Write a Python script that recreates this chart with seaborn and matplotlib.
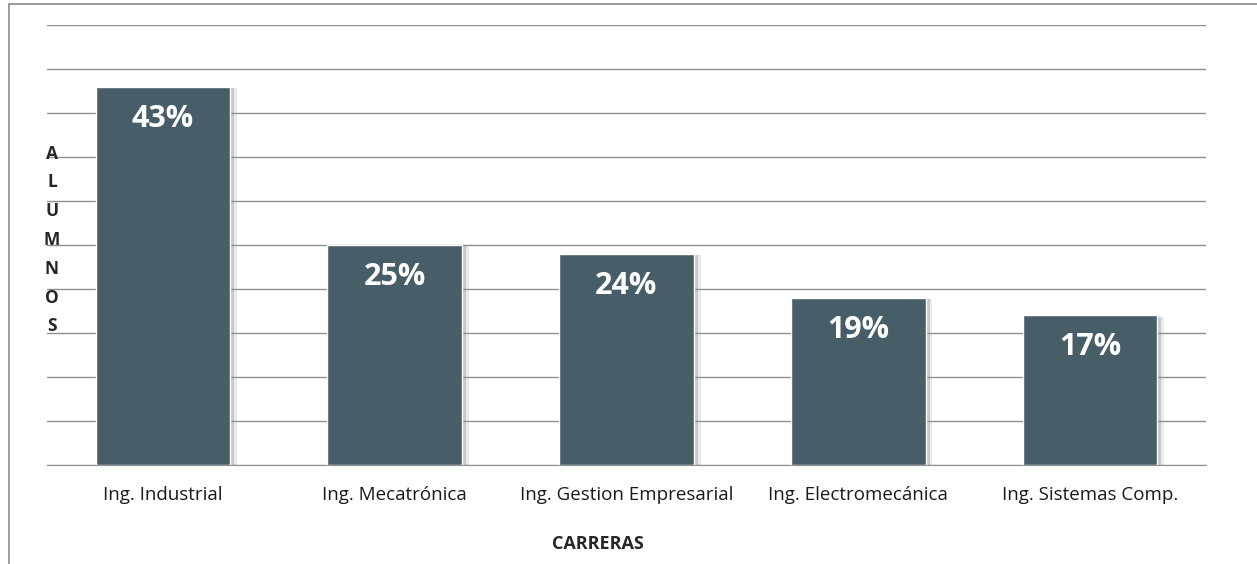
import matplotlib
matplotlib.use("Agg")
import matplotlib.pyplot as plt
import matplotlib.patheffects as pe
from matplotlib.patches import Rectangle
import numpy as np
import pandas as pd
import seaborn as sns

# ----- data -----
carreras = ["Ing. Industrial", "Ing. Mecatrónica", "Ing. Gestion Empresarial",
            "Ing. Electromecánica", "Ing. Sistemas Comp."]
porcentajes = [43, 25, 24, 19, 17]
etiquetas = ["43%", "25%", "24%", "19%", "17%"]

df = pd.DataFrame({"carrera": carreras, "pct": porcentajes})

sns.set_style("white")
plt.rcParams["font.family"] = ["Open Sans", "DejaVu Sans"]

W, H = 1257, 564
fig = plt.figure(figsize=(W / 100, H / 100), dpi=100)
ax = fig.add_axes([47 / W, 1 - 465 / H, (1206 - 47) / W, (465 - 25) / H])

bar_color = "#475E69"
sns.barplot(data=df, x="carrera", y="pct", color=bar_color, width=0.58,
            saturation=1, ax=ax, zorder=3)

# soft shadow on the right side of each bar
for p in ax.patches:
    p.set_path_effects([pe.SimplePatchShadow(offset=(5, -1), shadow_rgbFace="#9a9a9a", alpha=0.2),
                        pe.SimplePatchShadow(offset=(3, -1), shadow_rgbFace="#7a7a7a", alpha=0.3),
                        pe.Normal()])

# value labels inside the bars
for i, (v, t) in enumerate(zip(porcentajes, etiquetas)):
    ax.annotate(t, (i, v), xytext=(0, -32), textcoords="offset pixels",
                ha="center", va="center", color="white", fontsize=22,
                fontweight="bold", zorder=5)

ax.set_ylim(0, 50)
ax.set_yticks(np.arange(0, 51, 5))
ax.set_yticklabels([])
ax.yaxis.grid(True, color="#8f8f8f", linewidth=1)
ax.set_axisbelow(True)
ax.tick_params(axis="y", length=0)

ax.set_xlim(-0.5, len(carreras) - 0.5)
ax.set_xticks(np.arange(-0.5, len(carreras), 1), minor=True)
ax.tick_params(axis="x", which="major", length=0, pad=15, labelsize=13.5, labelcolor="#1a1a1a")
ax.tick_params(axis="x", which="minor", length=6, color="#8f8f8f", width=1)

for s in ["top", "right", "left"]:
    ax.spines[s].set_visible(False)
ax.spines["bottom"].set_color("#8f8f8f")

ax.set_xlabel("CARRERAS", fontsize=13, fontweight="bold")
ax.xaxis.set_label_coords((598 - 47) / (1206 - 47), -(535 - 465) / (465 - 25))
ax.set_ylabel("\n".join("ALUMNOS"), rotation=0, fontsize=12.5, fontweight="bold",
              linespacing=1.77, va="center", ha="center")
ax.yaxis.set_label_coords((52 - 47) / (1206 - 47), (465 - 240) / (465 - 25))

# outer chart border (cropped on right and bottom)
fig.patches.append(Rectangle((9 / W, -0.1), 1.2, 1.1 - 4 / H, transform=fig.transFigure,
                             fill=False, edgecolor="#8c8c8c", linewidth=1.2, clip_on=False))

fig.savefig("out.png", dpi=100)
